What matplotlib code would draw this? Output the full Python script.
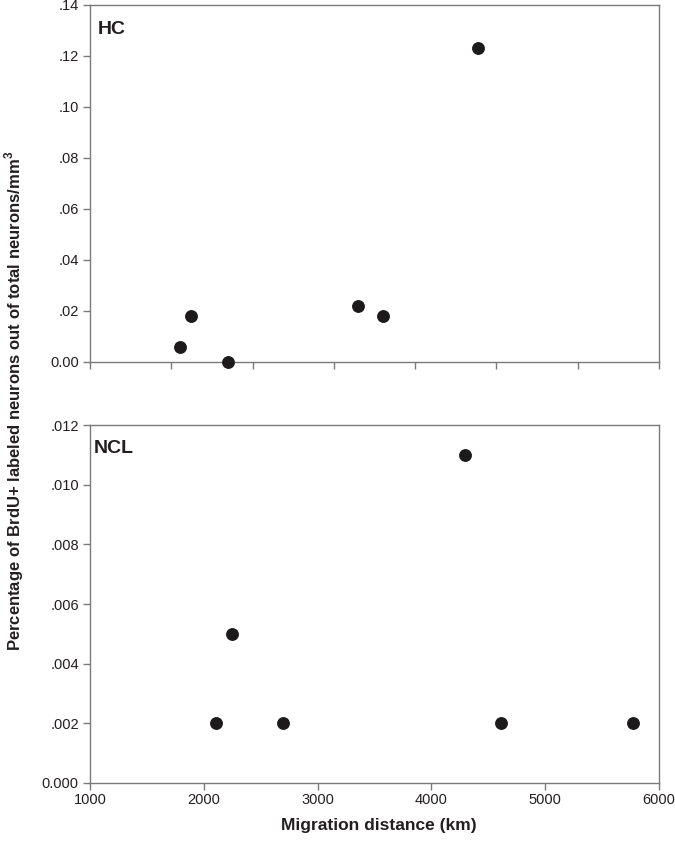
import numpy as np
import matplotlib
matplotlib.use('Agg')
import matplotlib.pyplot as plt

plt.rcParams['font.family'] = ['Liberation Sans', 'DejaVu Sans']

# migration distance (km) per bird
hc_dist = [2110, 2245, 2695, 4295, 4605, 5770]
hc_vals = [0.006, 0.018, 0.000, 0.022, 0.018, 0.123]
ncl_dist = [2110, 2245, 2695, 4295, 4610, 5770]
ncl_vals = [0.002, 0.005, 0.002, 0.011, 0.002, 0.002]

hc_yticks = [0.0, 0.02, 0.04, 0.06, 0.08, 0.10, 0.12, 0.14]
hc_ylabels = ['0.00', '.02', '.04', '.06', '.08', '.10', '.12', '.14']
hc_xticks = [1000, 2000, 3000, 4000, 5000, 6000, 7000, 8000]
ncl_yticks = [0.0, 0.002, 0.004, 0.006, 0.008, 0.010, 0.012]
ncl_ylabels = ['0.000', '.002', '.004', '.006', '.008', '.010', '.012']
ncl_xticks = [1000, 2000, 3000, 4000, 5000, 6000]
ncl_xlabels = ['1000', '2000', '3000', '4000', '5000', '6000']

spine_col = '#7a7a7a'
txt_col = '#231f20'
dot_col = '#1c1a1b'

fig = plt.figure(figsize=(6.75, 8.43), dpi=100)
ax1 = fig.add_axes([0.1333, 0.5706, 0.843, 0.4235])
ax2 = fig.add_axes([0.1333, 0.0712, 0.843, 0.4246])

def style(ax):
    for s in ax.spines.values():
        s.set_color(spine_col)
        s.set_linewidth(1.0)
    ax.tick_params(direction='out', length=5, width=1.0, color=spine_col,
                   labelsize=10.5, labelcolor=txt_col, pad=3)

ax1.scatter(hc_dist, hc_vals, s=68, color=dot_col, zorder=3, clip_on=False)
ax1.set_xlim(1000, 8000)
ax1.set_ylim(0, 0.14)
ax1.set_xticks(hc_xticks)
ax1.set_xticklabels([])
ax1.set_yticks(hc_yticks)
ax1.set_yticklabels(hc_ylabels)
style(ax1)
ax1.text(0.014, 0.955, 'HC', transform=ax1.transAxes, fontsize=14,
         fontweight='bold', color=txt_col, va='top', ha='left')

ax2.scatter(ncl_dist, ncl_vals, s=68, color=dot_col, zorder=3, clip_on=False)
ax2.set_xlim(1000, 6000)
ax2.set_ylim(0, 0.012)
ax2.set_xticks(ncl_xticks)
ax2.set_xticklabels(ncl_xlabels)
ax2.set_yticks(ncl_yticks)
ax2.set_yticklabels(ncl_ylabels)
style(ax2)
ax2.tick_params(axis='x', pad=2)
ax2.text(0.007, 0.958, 'NCL', transform=ax2.transAxes, fontsize=14,
         fontweight='bold', color=txt_col, va='top', ha='left')

fig.text(0.561, 0.021, 'Migration distance (km)', ha='center', va='center',
         fontsize=12.5, fontweight='bold', color=txt_col)
fig.text(0.003, 0.524, 'Percentage of BrdU+ labeled neurons out of total neurons/mm$^\\mathregular{3}$',
         rotation=90, ha='left', va='center', fontsize=12, fontweight='bold',
         color=txt_col)

fig.savefig('out.png', dpi=100)
